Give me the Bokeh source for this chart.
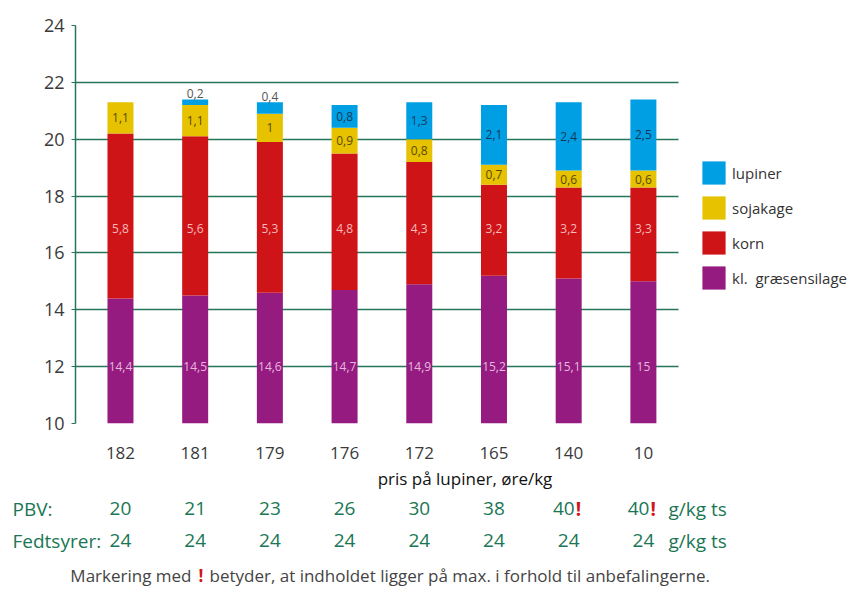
from bokeh.plotting import figure
from bokeh.layouts import column, row
from bokeh.models import (Range1d, FixedTicker, Legend, LegendItem,
                          ColumnDataSource, BoxAnnotation)
from bokeh.core.properties import value
from bokeh.embed import file_html
from bokeh.resources import INLINE

# ---------------- data ----------------
prices = ["182", "181", "179", "176", "172", "165", "140", "10"]
graes = [14.4, 14.5, 14.6, 14.7, 14.9, 15.2, 15.1, 15.0]
korn = [5.8, 5.6, 5.3, 4.8, 4.3, 3.2, 3.2, 3.3]
soja = [1.1, 1.1, 1.0, 0.9, 0.8, 0.7, 0.6, 0.6]
lupin = [0.0, 0.2, 0.4, 0.8, 1.3, 2.1, 2.4, 2.5]
series_names = ["kl.  græsensilage", "korn", "sojakage", "lupiner"]
pbv = ["20", "21", "23", "26", "30", "38", "40", "40"]
pbv_max = [False, False, False, False, False, False, True, True]
fedt = ["24", "24", "24", "24", "24", "24", "24", "24"]
y_ticks = [10, 12, 14, 16, 18, 20, 22, 24]

FONT = "Open Sans"
GREEN = "#1a7654"
GRID = "#26765a"
RED_MARK = "#d0141a"
colors = ["#951b81", "#cf1418", "#e6c200", "#009fe3"]
label_colors = ["#e6b8de", "#f4b9b9", "#5a4a00", "#153a5c"]

def fmt(v):
    s = ("%.1f" % v).rstrip("0").rstrip(".")
    return s.replace(".", ",")

n = len(prices)
xs = list(range(n))
src = ColumnDataSource(dict(x=xs, g=graes, k=korn, s=soja, l=lupin))

# ---------------- layout geometry ----------------
W = 854
H_TOP, H_BOT = 495, 97
LEFT, TOP, BOTTOM = 75, 25, 72
X0, X_CHART_END = -0.602, 7.47      # chart area in category units
CHART_PX = 603                       # chart area width in px
SCALE = CHART_PX / (X_CHART_END - X0)
X1 = X0 + (W - LEFT) / SCALE         # frame continues to the right (legend area)

p = figure(width=W, height=H_TOP, output_backend="svg", toolbar_location=None,
           x_range=Range1d(X0, X1), y_range=Range1d(10, 24),
           min_border_left=LEFT, min_border_right=0, min_border_top=TOP,
           min_border_bottom=BOTTOM)
p.outline_line_color = None
p.background_fill_color = "white"
p.border_fill_color = "white"

rs = p.vbar_stack(["g", "k", "s", "l"], x="x", width=0.348, color=colors,
                  line_color=None, source=src)

# axes
p.yaxis.ticker = FixedTicker(ticks=y_ticks)
p.yaxis.axis_line_color = GRID
p.yaxis.axis_line_width = 1.5
p.yaxis.major_tick_line_color = GRID
p.yaxis.major_tick_in = 0
p.yaxis.major_tick_out = 4
p.yaxis.minor_tick_line_color = None
p.yaxis.major_label_text_font = FONT
p.yaxis.major_label_text_font_size = "18px"
p.yaxis.major_label_text_color = "#3a3a3a"
p.yaxis.major_label_standoff = 7

p.xaxis.ticker = FixedTicker(ticks=xs)
p.xaxis.major_label_overrides = {i: prices[i] for i in xs}
p.xaxis.axis_line_color = None
p.xaxis.major_tick_line_color = None
p.xaxis.minor_tick_line_color = None
p.xaxis.major_label_text_font = FONT
p.xaxis.major_label_text_font_size = "17px"
p.xaxis.major_label_text_color = "#3a3a3a"
p.xaxis.major_label_standoff = 17
p.xaxis.axis_label = "pris på lupiner, øre/kg"
p.xaxis.axis_label_text_font = FONT
p.xaxis.axis_label_text_font_size = "17px"
p.xaxis.axis_label_text_font_style = "normal"
p.xaxis.axis_label_text_color = "#111111"
p.xaxis.axis_label_standoff = 5

p.xgrid.grid_line_color = None
p.ygrid.ticker = FixedTicker(ticks=y_ticks)
p.ygrid.grid_line_color = GRID
p.ygrid.grid_line_width = 1.5

# gridlines stop at the end of the chart area: cover the legend area
p.add_layout(BoxAnnotation(left=X_CHART_END, fill_color="white", fill_alpha=1.0,
                           line_color=None, level="underlay"))

# data labels
lx, ly, lt, lc = [], [], [], []
ax, ay, at = [], [], []
for i in xs:
    base = 0.0
    for j, vals in enumerate([graes, korn, soja, lupin]):
        v = vals[i]
        top = base + v
        if v > 0:
            if j == 0:
                yy = 12.0
            elif j == 1:
                yy = 16.85
            else:
                yy = (base + top) / 2
            if j == 3 and v < 0.5:
                ax.append(i); ay.append(top); at.append(fmt(v))
            else:
                lx.append(i); ly.append(yy); lt.append(fmt(v)); lc.append(label_colors[j])
        base = top

p.text(x=lx, y=ly, text=lt, text_color=lc, text_align="center",
       text_baseline="middle", text_font=value(FONT), text_font_size="12px")
p.text(x=ax, y=ay, text=at, text_color="#555555", text_align="center",
       text_baseline="bottom", y_offset=-1, text_font=value(FONT),
       text_font_size="12px")

# legend (inside the frame, right of the chart area)
items = [LegendItem(label=series_names[j], renderers=[rs[j]]) for j in [3, 2, 1, 0]]
legend = Legend(items=items, location=(624, 131), glyph_width=29, glyph_height=29,
                spacing=6, padding=0, margin=0, label_standoff=4,
                border_line_color=None, background_fill_alpha=0,
                label_text_font=FONT, label_text_font_size="15px",
                label_text_color="#333333")
p.add_layout(legend)

# ---------------- table below the chart ----------------
BX0 = X0 - LEFT / SCALE
q = figure(width=W, height=H_BOT, output_backend="svg", toolbar_location=None,
           x_range=Range1d(BX0, X1), y_range=Range1d(H_BOT, 0),
           min_border=0, min_border_left=0, min_border_right=0,
           min_border_top=0, min_border_bottom=0,
           x_axis_type=None, y_axis_type=None)
q.outline_line_color = None
q.xgrid.grid_line_color = None
q.ygrid.grid_line_color = None

def px(xpix):
    return BX0 + xpix / SCALE

def txt(xv, yv, texts, align="center", color=GREEN, size="19px", style="normal",
        x_offset=0):
    q.text(x=xv, y=yv, text=texts, text_align=align, text_baseline="middle",
           text_color=color, text_font=value(FONT), text_font_size=size,
           text_font_style=style, x_offset=x_offset)

PBV_Y = 13
FEDT_Y = 45
FOOT_Y = 80

txt([px(12)], [PBV_Y], ["PBV:"], align="left")
txt([px(12)], [FEDT_Y], ["Fedtsyrer:"], align="left")
norm = [i for i in xs if not pbv_max[i]]
mx = [i for i in xs if pbv_max[i]]
txt(norm, [PBV_Y] * len(norm), [pbv[i] for i in norm])
txt(mx, [PBV_Y] * len(mx), [pbv[i] for i in mx], align="right", x_offset=6)
txt(mx, [PBV_Y] * len(mx), ["!"] * len(mx), align="left", x_offset=7,
    color=RED_MARK, style="bold")
txt(xs, [FEDT_Y] * n, fedt)
txt([px(668), px(668)], [PBV_Y, FEDT_Y], ["g/kg ts", "g/kg ts"], align="left")

FOOT_SIZE = "17px"
txt([px(191)], [FOOT_Y], ["Markering med"], align="right", color="#444444",
    size=FOOT_SIZE)
txt([px(198)], [FOOT_Y], ["!"], align="left", color=RED_MARK, size=FOOT_SIZE,
    style="bold")
txt([px(209)], [FOOT_Y],
    ["betyder, at indholdet ligger på max. i forhold til anbefalingerne."],
    align="left", color="#444444", size=FOOT_SIZE)

layout = column(p, row(q, spacing=0), spacing=0)
open("out.html", "w").write(file_html(layout, INLINE))
